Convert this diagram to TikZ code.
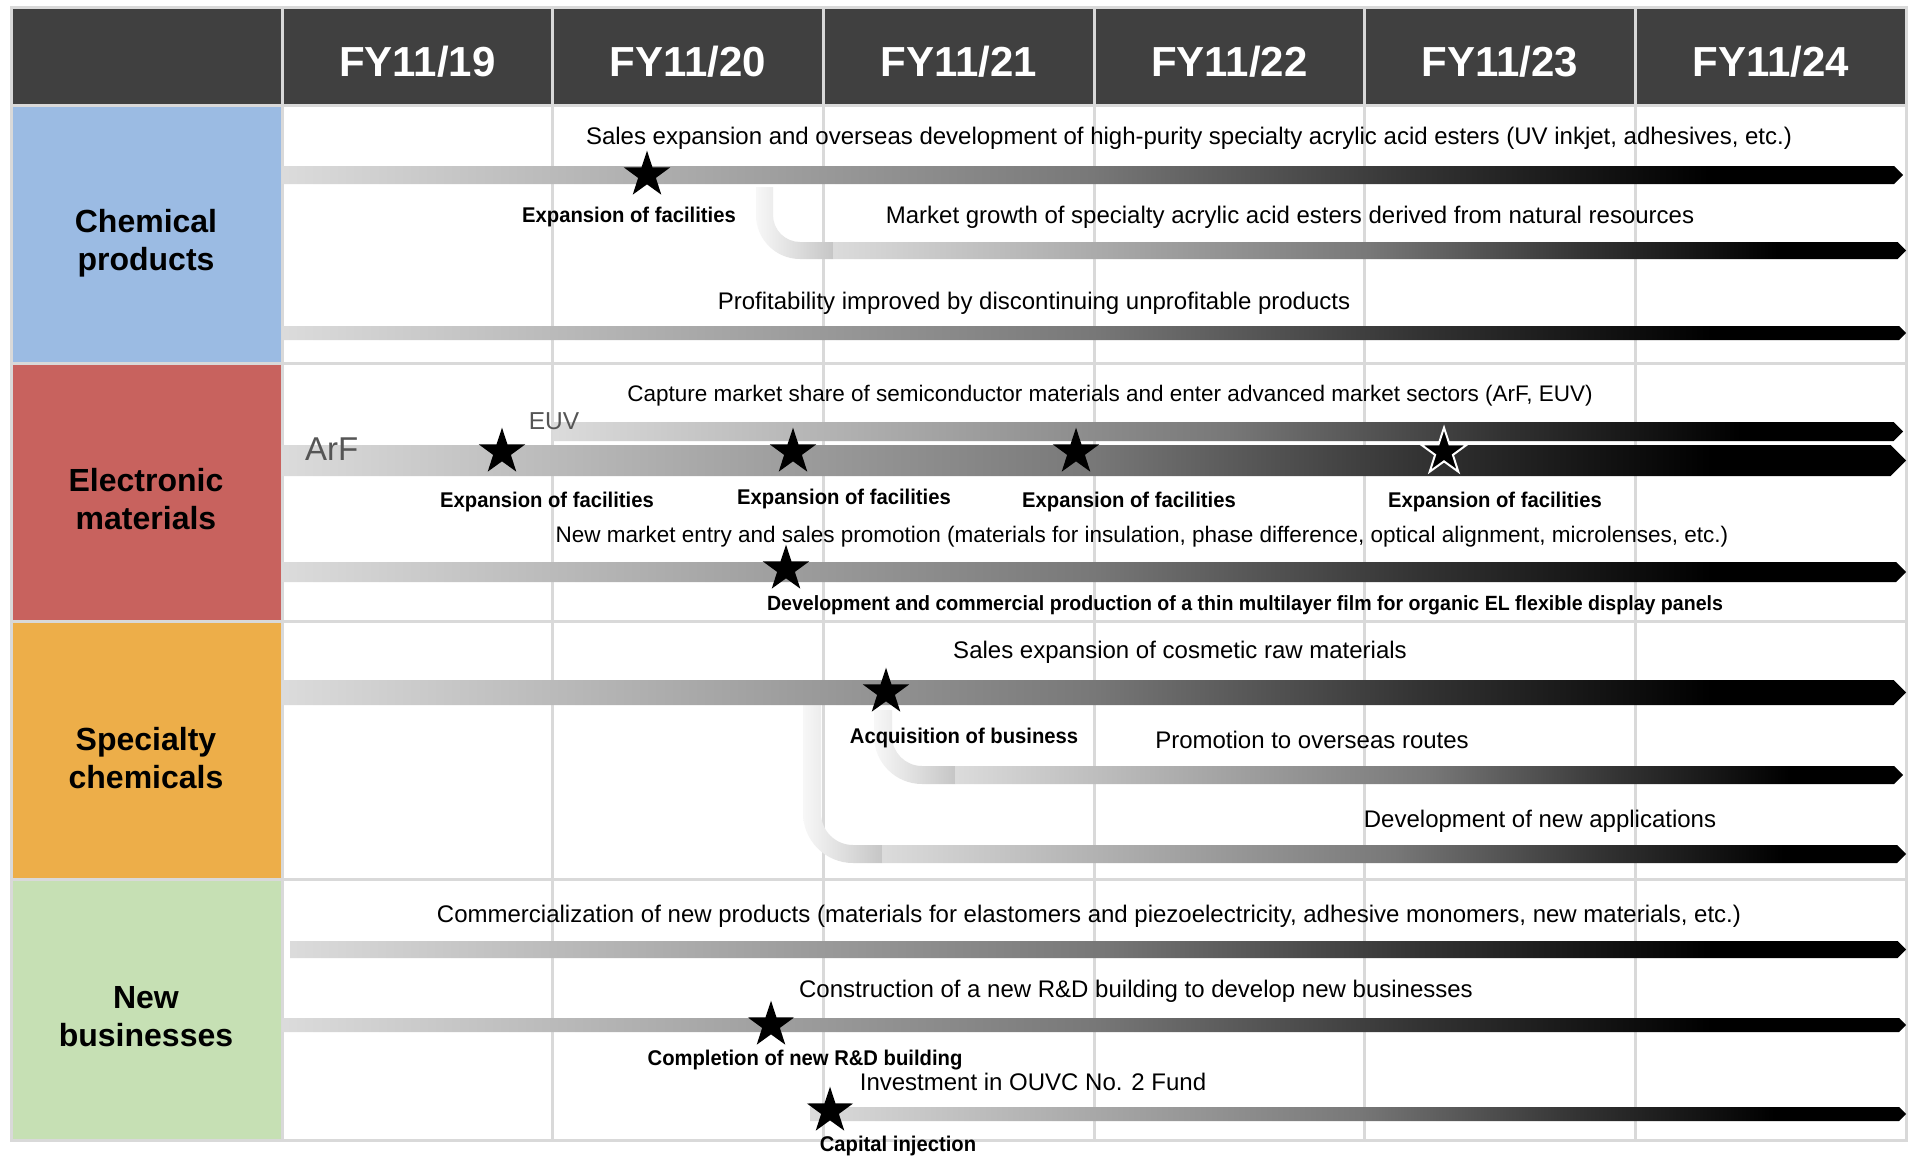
\documentclass[tikz,border=0pt]{standalone}
\usepackage{fontspec}
\setmainfont{Liberation Sans}
\newfontfamily\lblfont[FakeStretch=0.95]{Liberation Sans}
\usetikzlibrary{shapes.geometric}
\definecolor{hdr}{HTML}{404040}
\definecolor{gridc}{HTML}{D9D9D9}
\definecolor{cblue}{HTML}{9BBBE3}
\definecolor{cred}{HTML}{C8625E}
\definecolor{corange}{HTML}{EDAE49}
\definecolor{cgreen}{HTML}{C6E0B4}
\definecolor{lbl}{HTML}{555555}
\definecolor{g0}{gray}{0.86}
\definecolor{g1}{gray}{0.47}
\definecolor{g2}{gray}{0.2}
\pgfdeclarehorizontalshading{barshade}{100bp}{color(0bp)=(g0); color(25bp)=(g0); color(50bp)=(g1); color(60bp)=(g2); color(69bp)=(black); color(100bp)=(black)}
\newcommand{\gbar}[4]{\shade[shading=barshade] (#1,{#2-#4/2}) -- ({#3-#4/2},{#2-#4/2}) -- (#3,#2) -- ({#3-#4/2},{#2+#4/2}) -- (#1,{#2+#4/2}) -- cycle;}
\begin{document}
\begin{tikzpicture}[x=1pt,y=-1pt,
  txt/.style={anchor=base, inner sep=0pt, font=\fontsize{24}{28}\selectfont},
  stxt/.style={anchor=base, inner sep=0pt, font=\fontsize{22.5}{27}\selectfont},
  btxt/.style={anchor=base, inner sep=0pt, font=\lblfont\fontsize{21.3}{24}\selectfont\bfseries},
  gtxt/.style={anchor=base, inner sep=0pt, text=lbl, font=\fontsize{24.5}{28}\selectfont},
  hd/.style={anchor=base, inner sep=0pt, text=white, font=\fontsize{42}{48}\selectfont\bfseries},
  rowlab/.style={align=center, inner sep=0pt, font=\fontsize{32}{38}\selectfont\bfseries},
  starn/.style={star, star points=5, star point ratio=2.6, minimum size=48.6pt, inner sep=0pt, fill=black},
  starw/.style={starn, draw=white, line width=2pt},
  bendshade/.style={left color=gray!6, right color=gray!45},
  gridline/.style={draw=gridc, line width=3pt}]
\useasboundingbox (0,0) rectangle (1908,1156);
\fill[white] (0,0) rectangle (1908,1156);
% header and row cells
\fill[hdr] (11,8) rectangle (1906,105);
\fill[cblue] (11,105) rectangle (282,363);
\fill[cred] (11,363) rectangle (282,621);
\fill[corange] (11,621) rectangle (282,879);
\fill[cgreen] (11,879) rectangle (282,1140);
% grid
\foreach \xx in {282,552.7,823.3,1094,1364.7,1635.3}
  \draw[gridline] (\xx,8) -- (\xx,1140);
\foreach \yy in {105,363,621,879}
  \draw[gridline] (11,\yy) -- (1906,\yy);
\draw[gridline] (11,8) rectangle (1906,1140);
% header texts
\node[hd] (h1) at (417.3,77) {FY11/19};
\node[hd] (h2) at (688,77) {FY11/20};
\node[hd] (h3) at (958.7,77) {FY11/21};
\node[hd] (h4) at (1229.3,77) {FY11/22};
\node[hd] (h5) at (1500,77) {FY11/23};
\node[hd] (h6) at (1770.7,77) {FY11/24};
% row labels
\node[rowlab] (r1) at (146,243) {Chemical\\products};
\node[rowlab] (r2) at (146,499) {Electronic\\materials};
\node[rowlab] (r3) at (146,758) {Specialty\\chemicals};
\node[rowlab] (r4) at (146,1017) {New\\businesses};
% bends
\shade[bendshade] (756,187) -- (756,215) .. controls (756,239.3) and (775.7,259) .. (800,259) -- (833,259) -- (833,242) -- (800,242) .. controls (785.1,242) and (773,229.9) .. (773,215) -- (773,187) -- cycle;
\shade[bendshade] (874,710) -- (874,736) .. controls (874,762.5) and (895.5,784) .. (922,784) -- (955,784) -- (955,766) -- (922,766) .. controls (905.4,766) and (892,752.6) .. (892,736) -- (892,710) -- cycle;
\shade[bendshade] (803,701) -- (803,813) .. controls (803,840.6) and (825.4,863) .. (853,863) -- (882,863) -- (882,845) -- (853,845) .. controls (835.3,845) and (821,830.7) .. (821,813) -- (821,701) -- cycle;
% bars
\gbar{282}{175}{1903}{18}
\gbar{833}{250.5}{1906}{17}
\gbar{282}{333}{1906}{14}
\gbar{553}{431.5}{1903}{19}
\gbar{282}{460.5}{1906}{31}
\gbar{282}{572}{1906}{20}
\gbar{282}{692.5}{1906}{25}
\gbar{955}{775}{1903}{18}
\gbar{882}{854}{1906}{18}
\gbar{290}{949.5}{1906}{17}
\gbar{282}{1025}{1906}{14}
\gbar{810}{1114}{1906}{14}
% stars
\node[starn] (s1) at (647,175) {};
\node[starn] (s2) at (502,452) {};
\node[starn] (s3) at (793,452) {};
\node[starn] (s4) at (1076,452) {};
\node[starw] (s5) at (1444,452) {};
\node[starn] (s6) at (786,569) {};
\node[starn] (s7) at (886,692) {};
\node[starn] (s8) at (771,1025) {};
\node[starn] (s9) at (830,1111) {};
% texts
\node[txt] (t1) at (1189,144) {Sales expansion and overseas development of high-purity specialty acrylic acid esters (UV inkjet, adhesives, etc.)};
\node[btxt] (l1) at (629,222) {Expansion of facilities};
\node[txt] (t2) at (1290,223) {Market growth of specialty acrylic acid esters derived from natural resources};
\node[txt] (t3) at (1034,309) {Profitability improved by discontinuing unprofitable products};
\node[stxt] (t4) at (1110,401) {Capture market share of semiconductor materials and enter advanced market sectors (ArF, EUV)};
\node[gtxt] (euv) at (554,429) {EUV};
\node[gtxt, anchor=base west, font=\fontsize{33}{36}\selectfont] (arf) at (305,460) {ArF};
\node[btxt] (l2) at (547,507) {Expansion of facilities};
\node[btxt] (l3) at (844,504) {Expansion of facilities};
\node[btxt] (l4) at (1129,507) {Expansion of facilities};
\node[btxt] (l5) at (1495,507) {Expansion of facilities};
\node[stxt] (t5) at (1142,542) {New market entry and sales promotion (materials for insulation, phase difference, optical alignment, microlenses, etc.)};
\node[btxt, font=\lblfont\fontsize{20.6}{24}\selectfont\bfseries] (l6) at (1245,610) {Development and commercial production of a thin multilayer film for organic EL flexible display panels};
\node[txt] (t6) at (1180,658) {Sales expansion of cosmetic raw materials};
\node[btxt] (l7) at (964,743) {Acquisition of business};
\node[txt] (t7) at (1312,748) {Promotion to overseas routes};
\node[txt] (t8) at (1540,827) {Development of new applications};
\node[txt] (t9) at (1089,922) {Commercialization of new products (materials for elastomers and piezoelectricity, adhesive monomers, new materials, etc.)};
\node[txt] (t10) at (1136,997) {Construction of a new R\&D building to develop new businesses};
\node[btxt] (l8) at (805,1065) {Completion of new R\&D building};
\node[txt] (t11) at (1033,1090) {Investment in OUVC No. 2 Fund};
\node[btxt] (l9) at (898,1151) {Capital injection};
\end{tikzpicture}
\end{document}
